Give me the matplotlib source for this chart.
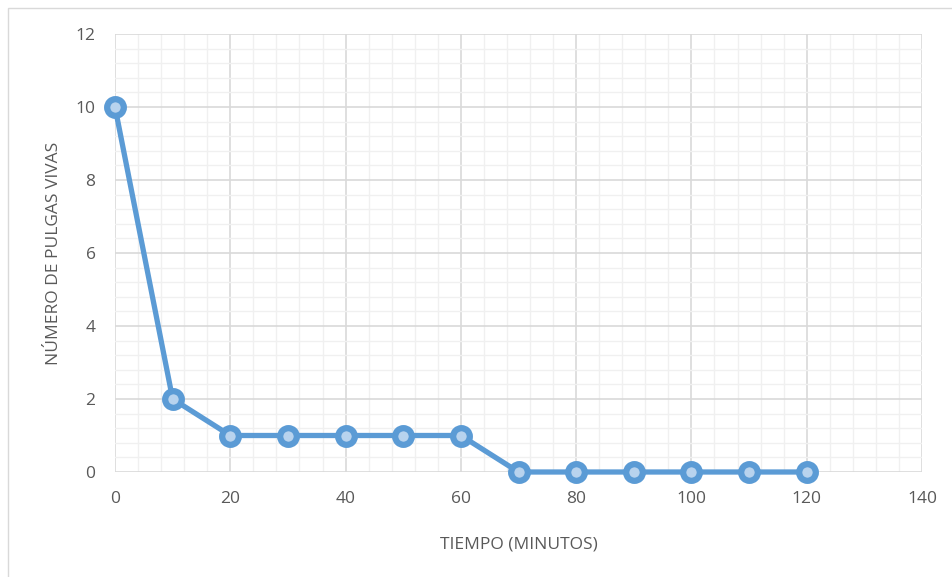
import matplotlib
matplotlib.use("Agg")
import matplotlib.pyplot as plt
from matplotlib.patches import Rectangle
from matplotlib.ticker import MultipleLocator

tiempo = [0, 10, 20, 30, 40, 50, 60, 70, 80, 90, 100, 110, 120]
pulgas = [10, 2, 1, 1, 1, 1, 1, 0, 0, 0, 0, 0, 0]
x_ticks = [0, 20, 40, 60, 80, 100, 120, 140]
y_ticks = [0, 2, 4, 6, 8, 10, 12]

plt.rcParams['font.family'] = ['Open Sans', 'DejaVu Sans']
txt = '#595959'
blue = '#5B9BD5'

fig = plt.figure(figsize=(9.52, 5.77), dpi=100)
fig.patches.append(Rectangle((8/952, -0.01), 1.02, 1 - 8/577 + 0.01, transform=fig.transFigure,
                             fill=False, edgecolor='#d9d9d9', linewidth=1))
ax = fig.add_axes([115/952, 1 - 472/577, (922 - 115)/952, (472 - 34)/577])
ax.set_xlim(0, 140)
ax.set_ylim(0, 12)
ax.set_xticks(x_ticks)
ax.set_yticks(y_ticks)
ax.xaxis.set_minor_locator(MultipleLocator(4))
ax.yaxis.set_minor_locator(MultipleLocator(0.4))
ax.grid(which='major', color='#d9d9d9', linewidth=1.2)
ax.grid(which='minor', color='#f0f0f0', linewidth=1)
ax.set_axisbelow(True)
for s in ax.spines.values():
    s.set_visible(False)
ax.tick_params(which='both', length=0, labelsize=12.5, colors=txt)
ax.tick_params(axis='x', pad=14)
ax.tick_params(axis='y', pad=14)

ax.plot(tiempo, pulgas, color=blue, linewidth=3.8, marker='o', markersize=12,
        markerfacecolor='#b8d3ee', markeredgecolor=blue, markeredgewidth=4.5,
        clip_on=False, zorder=3)

ax.set_xlabel('TIEMPO (MINUTOS)', fontsize=12.5, color=txt, labelpad=21)
ax.set_ylabel('NÚMERO DE PULGAS VIVAS', fontsize=12.5, color=txt, labelpad=10)

fig.savefig('out.png', dpi=100)
